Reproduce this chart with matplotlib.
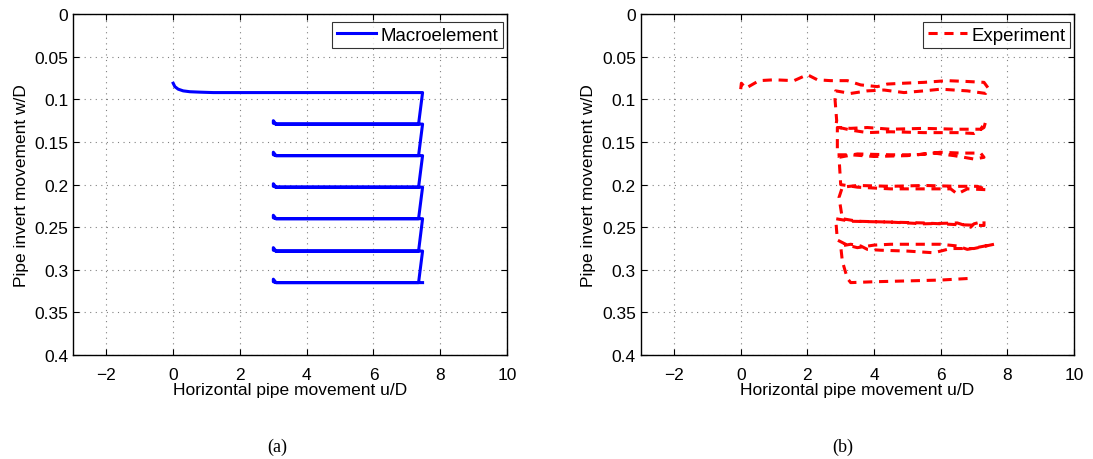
import matplotlib
matplotlib.use("Agg")
import matplotlib.pyplot as plt
import numpy as np
from matplotlib.ticker import FuncFormatter

plt.rcParams['font.family'] = ['Liberation Sans', 'DejaVu Sans']

# ---------------- Data ----------------
# Macroelement: starting point, cycle levels and horizontal limits
macro_start_u = [0.0, 0.05, 0.15, 0.3, 0.5, 0.8, 1.2, 2.0]
macro_start_w = [0.081, 0.085, 0.088, 0.090, 0.091, 0.0915, 0.092, 0.092]
macro_levels = [0.092, 0.129, 0.166, 0.203, 0.240, 0.278, 0.315]
macro_u_right = 7.47
macro_u_turn = 7.35
macro_u_left = 3.0

# Experiment (traced path)
exp_u = [0.00, 0.02, 0.15, 0.55, 1.0, 1.6, 2.0, 2.3, 2.7, 3.2, 3.6, 4.1, 4.4, 4.9, 5.5, 6.2, 6.8, 7.3,
         7.45, 7.35, 6.8, 6.0, 5.5, 4.9, 4.3, 3.8, 3.3, 2.85,
         2.83, 2.88, 2.85,
         3.3, 3.8, 4.5, 5.5, 6.5, 7.0, 7.3, 7.35, 7.2, 6.5, 5.5, 4.5, 3.8, 3.3, 2.9,
         2.9,
         3.3, 4.0, 5.0, 5.8, 6.4, 7.0, 7.3, 7.2, 6.6, 6.0, 5.3, 4.5, 3.5, 2.95,
         3.0,
         3.5, 4.5, 5.5, 6.3, 6.5, 6.8, 7.4, 7.1, 6.5, 5.5, 4.5, 3.5, 3.05,
         2.95, 3.05,
         3.5, 4.5, 5.5, 6.5, 6.9, 7.0, 7.3, 7.3, 6.5, 5.5, 4.5, 3.3, 2.85,
         2.9,
         3.2, 3.5, 4.0, 4.5, 5.0, 6.0, 6.5, 6.8, 7.2, 7.6, 7.0, 6.3, 5.8, 5.0, 4.2, 3.8, 3.6, 3.3, 3.0,
         3.05, 3.2, 3.3,
         4.0, 5.0, 6.0, 6.9]
exp_w = [0.088, 0.081, 0.087, 0.078, 0.077, 0.078, 0.071, 0.077, 0.078, 0.078, 0.083, 0.085, 0.082, 0.081, 0.080, 0.078, 0.079, 0.080,
         0.088, 0.093, 0.090, 0.088, 0.090, 0.092, 0.089, 0.090, 0.093, 0.090,
         0.100, 0.125, 0.132,
         0.136, 0.139, 0.138, 0.139, 0.139, 0.140, 0.133, 0.126, 0.135, 0.135, 0.134, 0.135, 0.133, 0.134, 0.133,
         0.165,
         0.165, 0.167, 0.166, 0.163, 0.166, 0.170, 0.168, 0.163, 0.163, 0.162, 0.165, 0.165, 0.164, 0.168,
         0.200,
         0.203, 0.205, 0.205, 0.205, 0.211, 0.205, 0.206, 0.202, 0.202, 0.201, 0.202, 0.201, 0.203,
         0.215, 0.240,
         0.243, 0.244, 0.246, 0.245, 0.250, 0.246, 0.243, 0.248, 0.247, 0.245, 0.244, 0.243, 0.240,
         0.265,
         0.271, 0.274, 0.271, 0.270, 0.270, 0.270, 0.272, 0.276, 0.273, 0.270, 0.275, 0.275, 0.280, 0.278, 0.277, 0.276, 0.272, 0.270, 0.272,
         0.290, 0.310, 0.315,
         0.314, 0.313, 0.312, 0.310]

xticks = [-2, 0, 2, 4, 6, 8, 10]
yticks = [0, 0.05, 0.1, 0.15, 0.2, 0.25, 0.3, 0.35, 0.4]

# Build macroelement path
mu = list(macro_start_u)
mw = list(macro_start_w)
mu.append(macro_u_right); mw.append(macro_levels[0])
for i in range(1, len(macro_levels)):
    lv = macro_levels[i]
    mu += [macro_u_turn, macro_u_left + 0.08, macro_u_left, macro_u_left, macro_u_left + 0.08]
    mw += [lv, lv, lv - 0.001, lv - 0.004, lv]
    mu.append(macro_u_right); mw.append(lv)

fig = plt.figure(figsize=(10.93, 4.60), dpi=100)
axA = fig.add_axes([0.0668, 0.226, 0.3971, 0.741])
axB = fig.add_axes([0.5862, 0.226, 0.3964, 0.741])

fmt = FuncFormatter(lambda v, p: ('%g' % v).replace('-', '\u2212'))
FS = 12.5
for ax in (axA, axB):
    ax.set_xlim(-3, 10)
    ax.set_ylim(0.4, 0)
    ax.set_xticks(xticks)
    ax.set_yticks(yticks)
    ax.xaxis.set_major_formatter(fmt)
    ax.yaxis.set_major_formatter(fmt)
    ax.grid(True, linestyle=(0, (1, 4)), color='#808080', linewidth=0.8)
    ax.tick_params(direction='in', top=True, right=True, labelsize=FS, length=4, width=0.8)
    ax.tick_params(axis='x', pad=8.5)
    ax.set_xlabel('Horizontal pipe movement u/D', fontsize=FS, labelpad=0)
    ax.set_ylabel('Pipe invert movement w/D', fontsize=FS, labelpad=4)
    for s in ax.spines.values():
        s.set_linewidth(1.0)

axA.plot(mu, mw, color='#0000ff', linewidth=2.2, label='Macroelement', solid_joinstyle='round')
axB.plot(exp_u, exp_w, color='#ff0000', linewidth=2.2, linestyle=(0, (3, 2.2)), label='Experiment')

for ax in (axA, axB):
    leg = ax.legend(loc='upper right', bbox_to_anchor=(0.991, 0.977), fontsize=13.4, frameon=True,
                    fancybox=False, borderaxespad=0, borderpad=0.25, handlelength=2.1,
                    handletextpad=0.25)
    leg.get_frame().set_edgecolor('black')
    leg.get_frame().set_linewidth(0.8)

fig.text(0.2534, 0.028, '(a)', fontsize=13, family='Liberation Serif', ha='center', va='center')
fig.text(0.7713, 0.028, '(b)', fontsize=13, family='Liberation Serif', ha='center', va='center')

fig.savefig('out.png', dpi=100)
